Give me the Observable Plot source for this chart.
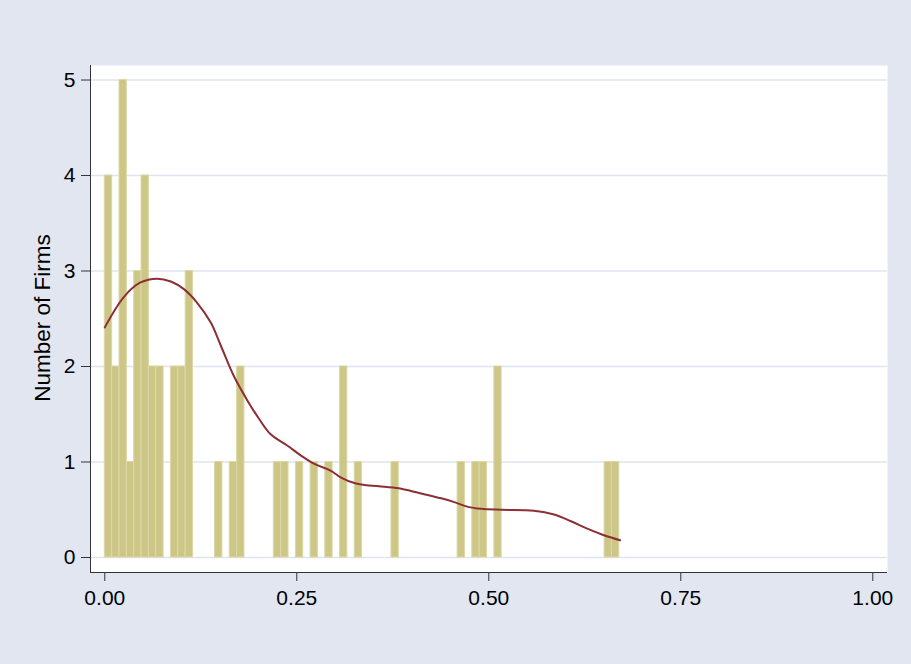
<!DOCTYPE html>
<html><head><meta charset="utf-8">
<script src="https://cdn.jsdelivr.net/npm/d3@7"></script>
<script src="https://cdn.jsdelivr.net/npm/@observablehq/plot@0.6"></script>
<style>html,body{margin:0;padding:0;background:#e1e6f0;}</style>
</head><body><div id="chart"></div>
<script>
// ---- data ----
const binStart = 0;
const binWidth = 0.00957;
const binCounts = [
  4,2,5,1,3,4,2,2,0,2,
  2,3,0,0,0,1,0,1,2,0,
  0,0,0,1,1,0,1,0,1,0,
  1,0,2,0,1,0,0,0,0,1,
  0,0,0,0,0,0,0,0,1,0,
  1,1,0,2,0,0,0,0,0,0,
  0,0,0,0,0,0,0,0,1,1
];
const curveX = [0.000,0.025,0.0465,0.068,0.086,0.103,0.120,0.138,0.151,0.168,0.186,0.201,0.216,0.238,0.255,0.273,0.294,0.307,0.325,0.338,0.364,0.386,0.407,0.438,0.455,0.473,0.490,0.516,0.559,0.585,0.607,0.629,0.651,0.671];
const curveY = [2.41,2.73,2.88,2.92,2.89,2.81,2.67,2.46,2.22,1.90,1.64,1.45,1.29,1.17,1.07,0.98,0.91,0.84,0.78,0.76,0.74,0.72,0.68,0.62,0.58,0.53,0.51,0.50,0.49,0.45,0.38,0.30,0.23,0.18];
const xTicks = [0, 0.25, 0.5, 0.75, 1];
const yTicks = [0, 1, 2, 3, 4, 5];
const yTitle = "Number of Firms";

// ---- build ----
const xDomain = [-0.01862, 1.01914];
const yDomain = [-0.157, 5.152];
const bins = binCounts
  .map((c, i) => ({x1: binStart + i * binWidth, x2: binStart + (i + 1) * binWidth, base: 0, count: c}))
  .filter(d => d.count > 0);
const density = curveX.map((x, i) => ({x, y: curveY[i]}));

const chart = Plot.plot({
  width: 911, height: 664,
  marginLeft: 90, marginRight: 24, marginTop: 65, marginBottom: 92,
  style: {background: "#e1e6f0", fontFamily: "'Liberation Sans', Arial, sans-serif", fontSize: "21px", color: "#000"},
  x: {domain: xDomain},
  y: {domain: yDomain},
  marks: [
    Plot.frame({fill: "white", stroke: "none"}),
    Plot.ruleY(yTicks, {stroke: "#dfe4ee", strokeWidth: 1.6}),
    Plot.rectY(bins, {x1: "x1", x2: "x2", y1: "base", y2: "count", fill: "#cdc787", stroke: "#ddd8a5", strokeWidth: 1}),
    Plot.line(density, {x: "x", y: "y", stroke: "#8c2f35", strokeWidth: 2, curve: "catmull-rom"}),
    Plot.ruleX([xDomain[0]], {stroke: "#333", strokeWidth: 1}),
    Plot.ruleY([yDomain[0]], {stroke: "#333", strokeWidth: 1}),
    Plot.axisX({ticks: xTicks, tickFormat: d3.format(".2f"), tickSize: 9, tickPadding: 9, fontSize: 21, label: null, stroke: "#333"}),
    Plot.axisY({ticks: yTicks, tickFormat: d3.format("d"), tickSize: 9, tickPadding: 6, fontSize: 21, label: null, stroke: "#333"}),
    Plot.text([yTitle], {text: d => d, frameAnchor: "left", dx: -48, dy: -1, rotate: -90, textAnchor: "middle", fontSize: 22.5, fill: "#000"})
  ]
});
document.getElementById("chart").appendChild(chart);
</script>
</body></html>
